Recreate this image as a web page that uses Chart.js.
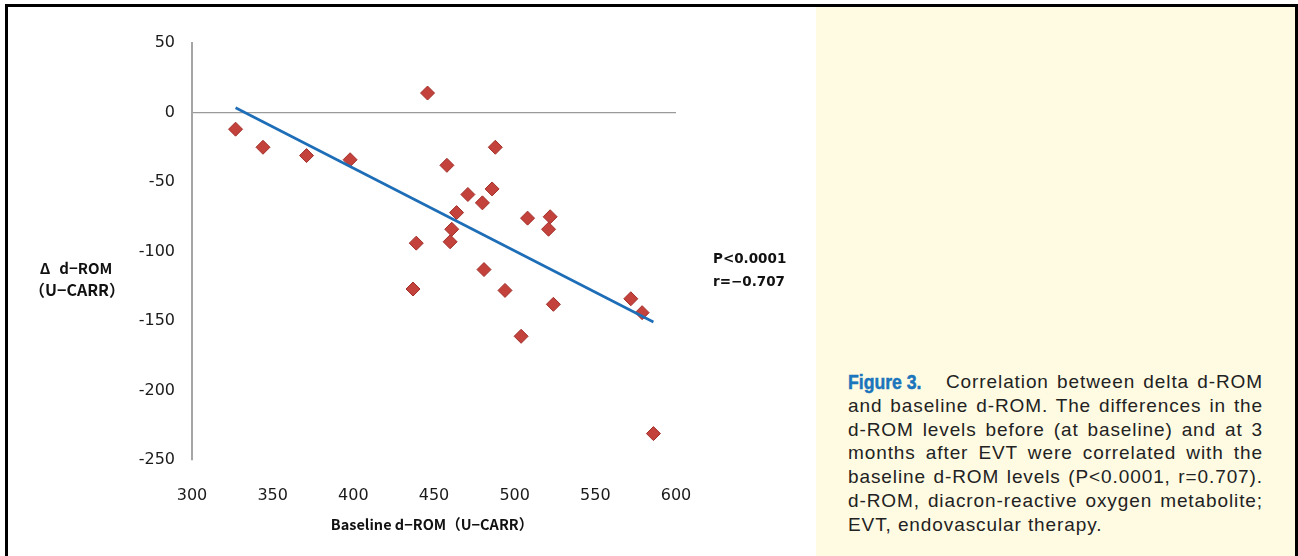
<!DOCTYPE html>
<html>
<head>
<meta charset="utf-8">
<title>Delta d-ROM vs baseline d-ROM</title>
<script src="https://cdn.jsdelivr.net/npm/chart.js@4.4.0/dist/chart.umd.min.js"></script>
<style>
  html, body { margin: 0; padding: 0; background: #fff; }
  body { width: 1298px; height: 556px; position: relative; overflow: hidden; font-family: "Liberation Sans", Arial, sans-serif; }
  #frame { position: absolute; left: 5px; top: 4px; width: 1287px; height: 600px; border: 3px solid #000; border-bottom: none; }
  #side { position: absolute; left: 816px; top: 7px; width: 479px; height: 549px; background: #fffbe2; }
  #chartBox { position: absolute; left: 0; top: 0; width: 816px; height: 556px; }
  .lbl { position: absolute; font-family: "Noto Sans CJK JP", sans-serif; font-weight: bold; font-size: 14px; color: #111; white-space: nowrap; transform: translate(-50%, -50%); }
  .note { position: absolute; font-family: "DejaVu Sans", sans-serif; font-weight: bold; font-size: 13.5px; color: #111; white-space: nowrap; transform: translateY(-50%); }
  #caption { position: absolute; left: 848px; top: 370px; width: 415px; font-size: 19px; line-height: 23.8px; color: #222; letter-spacing: 0.9px; }
  #caption .ln { height: 23.8px; text-align: justify; text-align-last: justify; }
  #caption .ln.last { text-align: left; text-align-last: left; }
  #caption .first { display: flex; }
  #caption .fig { display: inline-block; width: 76px; flex: none; overflow: visible; white-space: nowrap; }
  #caption .fig b { display: inline-block; font-size: 21px; letter-spacing: 0; color: #1b75bc; -webkit-text-stroke: 0.5px #1b75bc; transform: scaleX(0.84); transform-origin: left center; }
  #caption .rest { flex: 1; margin-left: 22px; text-align: justify; text-align-last: justify; }
</style>
</head>
<body>
<div id="side"></div>
<div id="chartBox"><canvas id="scatterChart"></canvas></div>

<div class="lbl" style="left:76px; top:267px; font-size:15px;">Δ<span style="margin-left:9px">d−ROM</span></div>
<div class="lbl" style="left:77px; top:289px; font-size:16px;">（U−CARR）</div>
<div class="note" style="left:713px; top:258px;">P&lt;0.0001</div>
<div class="note" style="left:713px; top:281px;">r=−0.707</div>
<div class="lbl" style="left:432px; top:523px; font-size:14.5px;">Baseline d−ROM（U−CARR）</div>

<div id="caption">
  <div class="ln first"><span class="fig"><b>Figure 3.</b></span><span class="rest">Correlation between delta d-ROM</span></div>
  <div class="ln">and baseline d-ROM. The differences in the</div>
  <div class="ln">d-ROM levels before (at baseline) and at 3</div>
  <div class="ln">months after EVT were correlated with the</div>
  <div class="ln">baseline d-ROM levels (P&lt;0.0001, r=0.707).</div>
  <div class="ln">d-ROM, diacron-reactive oxygen metabolite;</div>
  <div class="ln last">EVT, endovascular therapy.</div>
</div>

<div id="frame"></div>

<script>
// values
const baselineDrom = [327, 344, 371, 398, 446, 458, 488, 486, 471, 480, 464, 461, 460, 439, 508, 522, 521, 481, 437, 494, 524, 504, 572, 579, 586];
const deltaDrom    = [-12, -25, -31, -34, 14, -38, -25, -55, -59, -65, -72, -84, -93, -94, -76, -75, -84, -113, -127, -128, -138, -161, -134, -144, -231];

// regression line end points
const trendX = [327, 586];
const trendY = [3.4, -150.7];

const xTicks = [300, 350, 400, 450, 500, 550, 600];
const yTicks = [50, 0, -50, -100, -150, -200, -250];

const points = baselineDrom.map((x, i) => ({ x: x, y: deltaDrom[i] }));
const trend = trendX.map((x, i) => ({ x: x, y: trendY[i] }));

const tickFont = { family: "DejaVu Sans", size: 16 };

new Chart(document.getElementById('scatterChart'), {
  type: 'scatter',
  data: {
    datasets: [
      {
        label: 'Trend',
        data: trend,
        showLine: true,
        borderColor: '#1d6db7',
        borderWidth: 2.6,
        pointRadius: 0,
        fill: false
      },
      {
        label: 'd-ROM',
        data: points,
        pointStyle: 'rectRot',
        pointRadius: 7,
        pointBackgroundColor: '#c4423c',
        pointBorderColor: '#a12f2a',
        pointBorderWidth: 1
      }
    ]
  },
  options: {
    responsive: true,
    maintainAspectRatio: false,
    animation: false,
    layout: { padding: { top: 43, right: 140, left: 0, bottom: 0 } },
    plugins: { legend: { display: false }, tooltip: { enabled: false } },
    scales: {
      x: {
        type: 'linear',
        min: xTicks[0],
        max: xTicks[xTicks.length - 1],
        afterBuildTicks: s => { s.ticks = xTicks.map(v => ({ value: v })); },
        afterFit: s => { s.height = 96; },
        grid: { display: false },
        border: { display: false },
        ticks: { font: tickFont, color: '#1a1a1a', padding: 18, maxRotation: 0 }
      },
      y: {
        type: 'linear',
        min: yTicks[yTicks.length - 1],
        max: yTicks[0],
        afterBuildTicks: s => { s.ticks = yTicks.slice().reverse().map(v => ({ value: v })); },
        afterFit: s => { s.width = 192; },
        grid: {
          drawTicks: false,
          lineWidth: 1.3,
          color: c => (c.tick && c.tick.value === 0) ? '#9a9a9a' : 'rgba(0,0,0,0)'
        },
        border: { display: true, color: '#a5a5a5', width: 2 },
        ticks: { font: tickFont, color: '#1a1a1a', padding: 17 }
      }
    }
  }
});
</script>
</body>
</html>
